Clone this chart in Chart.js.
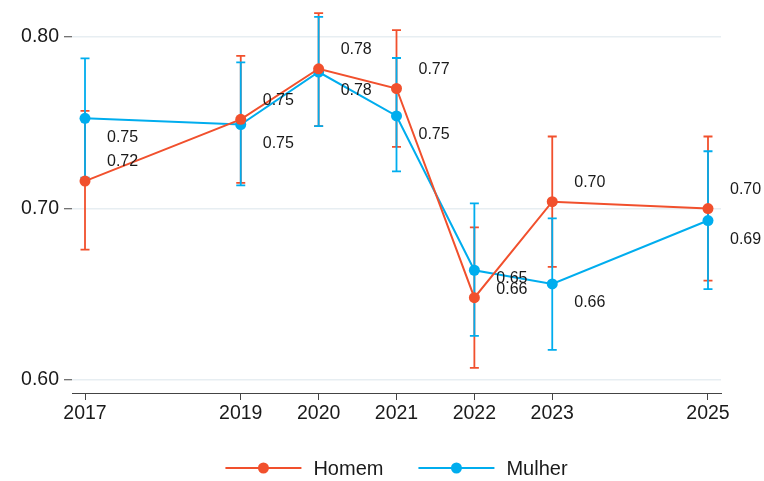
<!DOCTYPE html>
<html><head><meta charset="utf-8">
<script src="https://cdn.jsdelivr.net/npm/chart.js@4/dist/chart.umd.min.js"></script>
<style>html,body{margin:0;padding:0;background:#fff}#wrap{width:764px;height:481px}canvas{display:block}</style>
</head><body><div id="wrap"><canvas id="c" width="764" height="481"></canvas></div>
<script>
const years = [2017, 2019, 2020, 2021, 2022, 2023, 2025];
const seriesNames = ['Homem', 'Mulher'];
const homem = [0.716, 0.752, 0.7815, 0.770, 0.648, 0.704, 0.700];
const homemLow = [0.676, 0.715, 0.748, 0.736, 0.607, 0.666, 0.658];
const homemHigh = [0.757, 0.789, 0.814, 0.804, 0.689, 0.742, 0.742];
const mulher = [0.7526, 0.749, 0.7796, 0.754, 0.664, 0.656, 0.693];
const mulherLow = [0.718, 0.7135, 0.748, 0.7217, 0.6257, 0.6175, 0.653];
const mulherHigh = [0.7876, 0.7852, 0.8118, 0.7878, 0.703, 0.6943, 0.7334];
const yTicks = [0.60, 0.70, 0.80];

const RED = '#F1502D';
const BLUE = '#00ADEE';
const FONT = "'Liberation Sans', Arial, sans-serif";

const toPts = arr => years.map((y, i) => ({x: y, y: arr[i]}));

const errorBars = {
  id: 'errorBars',
  beforeDatasetsDraw(chart) {
    const {ctx, scales: {x, y}} = chart;
    const sets = [[homemLow, homemHigh, RED], [mulherLow, mulherHigh, BLUE]];
    ctx.save();
    sets.forEach(([lo, hi, col]) => {
      ctx.strokeStyle = col;
      ctx.lineWidth = 1.8;
      years.forEach((yr, i) => {
        const px = x.getPixelForValue(yr);
        const p1 = y.getPixelForValue(lo[i]);
        const p2 = y.getPixelForValue(hi[i]);
        ctx.beginPath();
        ctx.moveTo(px, p1); ctx.lineTo(px, p2);
        ctx.moveTo(px - 4.5, p1); ctx.lineTo(px + 4.5, p1);
        ctx.moveTo(px - 4.5, p2); ctx.lineTo(px + 4.5, p2);
        ctx.stroke();
      });
    });
    ctx.restore();
  }
};

const valueLabels = {
  id: 'valueLabels',
  afterDatasetsDraw(chart) {
    const {ctx} = chart;
    ctx.save();
    ctx.font = '16px ' + FONT;
    ctx.fillStyle = '#1a1a1a';
    ctx.textAlign = 'left';
    ctx.textBaseline = 'middle';
    chart.data.datasets.forEach((ds, di) => {
      const meta = chart.getDatasetMeta(di);
      const dy = di === 0 ? -19 : 19;
      meta.data.forEach((pt, i) => {
        ctx.fillText(ds.data[i].y.toFixed(2), pt.x + 22, pt.y + dy);
      });
    });
    ctx.restore();
  }
};

const customLegend = {
  id: 'customLegend',
  afterDraw(chart) {
    const {ctx, chartArea} = chart;
    ctx.save();
    ctx.font = '20px ' + FONT;
    const lineW = 76, gapText = 12, gapItem = 35;
    const items = chart.data.datasets.map(ds => ({label: ds.label, color: ds.borderColor, tw: ctx.measureText(ds.label).width}));
    let total = 0;
    items.forEach((it, i) => { total += lineW + gapText + it.tw + (i ? gapItem : 0); });
    let x = (chartArea.left + chartArea.right) / 2 - total / 2;
    const cy = 468;
    items.forEach(it => {
      ctx.strokeStyle = it.color;
      ctx.lineWidth = 2;
      ctx.beginPath(); ctx.moveTo(x, cy); ctx.lineTo(x + lineW, cy); ctx.stroke();
      ctx.fillStyle = it.color;
      ctx.beginPath(); ctx.arc(x + lineW / 2, cy, 5.5, 0, Math.PI * 2); ctx.fill();
      ctx.fillStyle = '#1a1a1a';
      ctx.textAlign = 'left'; ctx.textBaseline = 'middle';
      ctx.fillText(it.label, x + lineW + gapText, cy + 1);
      x += lineW + gapText + it.tw + gapItem;
    });
    ctx.restore();
  }
};

new Chart(document.getElementById('c'), {
  type: 'line',
  data: {
    datasets: [
      {label: seriesNames[0], data: toPts(homem), borderColor: RED, backgroundColor: RED,
       borderWidth: 2, pointRadius: 5.5, pointHoverRadius: 5.5, pointBorderWidth: 0, tension: 0},
      {label: seriesNames[1], data: toPts(mulher), borderColor: BLUE, backgroundColor: BLUE,
       borderWidth: 2, pointRadius: 5.5, pointHoverRadius: 5.5, pointBorderWidth: 0, tension: 0}
    ]
  },
  options: {
    responsive: false,
    animation: false,
    events: [],
    layout: {padding: {top: 11, right: 43, bottom: 58, left: 0}},
    plugins: {legend: {display: false}, tooltip: {enabled: false}},
    scales: {
      x: {
        type: 'linear', min: 2016.833, max: 2025.167,
        afterBuildTicks: s => { s.ticks = years.map(v => ({value: v})); },
        afterFit: s => { s.height = 30; s.paddingLeft = 0; s.paddingRight = 0; },
        ticks: {callback: v => String(v), font: {family: FONT, size: 19.5}, color: '#1a1a1a',
                padding: 2, autoSkip: false, maxRotation: 0},
        grid: {drawOnChartArea: false, drawTicks: true, tickLength: 7, tickColor: '#444', tickWidth: 1},
        border: {display: true, color: '#444', width: 1}
      },
      y: {
        min: 0.5924, max: 0.8152,
        afterBuildTicks: s => { s.ticks = yTicks.map(v => ({value: v})); },
        afterFit: s => { s.width = 72; s.paddingTop = 0; s.paddingBottom = 0; },
        ticks: {callback: v => Number(v).toFixed(2), font: {family: FONT, size: 19.5}, color: '#1a1a1a', padding: 5},
        grid: {color: '#E7EEF2', lineWidth: 1.5, drawTicks: true, tickLength: 8, tickColor: '#444', tickWidth: 1},
        border: {display: false}
      }
    }
  },
  plugins: [errorBars, valueLabels, customLegend]
});
</script>
</body></html>
